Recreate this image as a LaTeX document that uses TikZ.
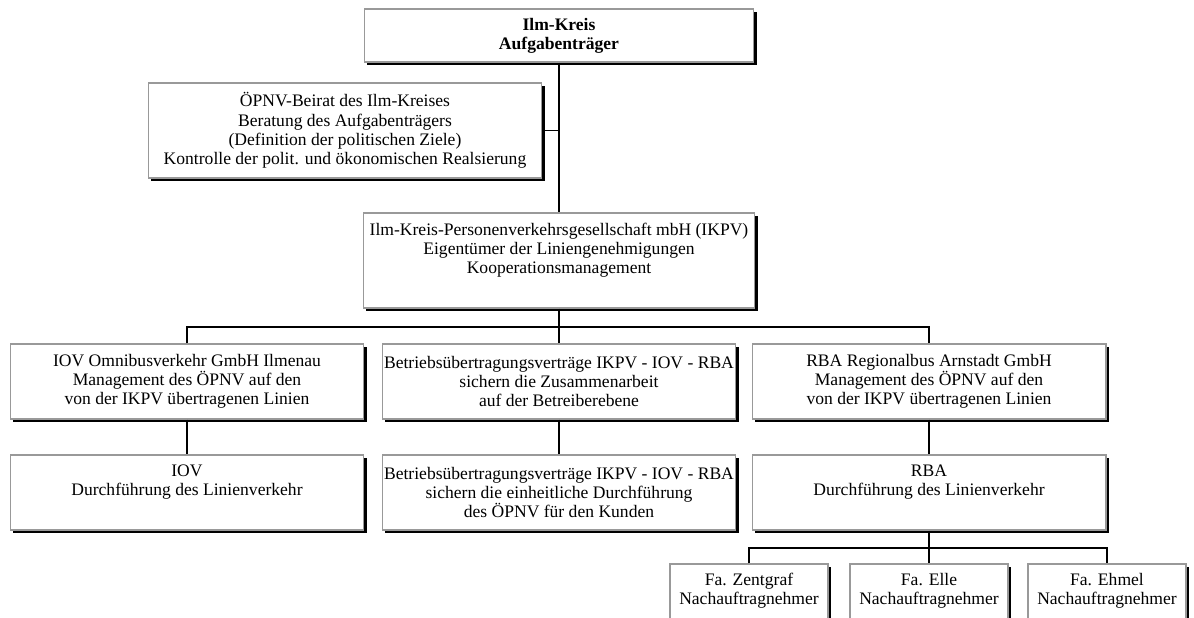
\documentclass[tikz,border=0pt]{standalone}
\usepackage{fontspec}
\setmainfont{Liberation Serif}
\usetikzlibrary{shadows}

\begin{document}
\begin{tikzpicture}[x=0.02cm,y=-0.02cm,
  box/.style={draw=gray!80, line width=0.6pt, fill=white, align=center, inner sep=0pt,
    font=\fontsize{10}{10.9}\selectfont,
    drop shadow={shadow xshift=1.7pt, shadow yshift=-1.7pt, fill=black, opacity=1}},
  widebox/.style={box, minimum width=7.08cm, minimum height=1.5cm},
  smallbox/.style={box, minimum width=3.16cm, minimum height=1.5cm},
  conn/.style={line width=0.6pt}]
  \useasboundingbox (0,0) rectangle (1194,618);

  \node[box, minimum width=7.8cm, minimum height=1.06cm] (kreis) at (559,35.5)
    {\textbf{Ilm-Kreis}\\\textbf{Aufgabenträger}};
  \node[box, minimum width=7.88cm, minimum height=1.9cm] (beirat) at (345,130.5)
    {ÖPNV-Beirat des Ilm-Kreises\\Beratung des Aufgabenträgers\\(Definition der politischen Ziele)\\Kontrolle der polit. und ökonomischen Realsierung};
  \node[box, minimum width=7.84cm, minimum height=1.9cm] (ikpv) at (559,260.5)
    {Ilm-Kreis-Personenverkehrsgesellschaft mbH (IKPV)\\Eigentümer der Liniengenehmigungen\\Kooperationsmanagement\\ \strut};

  \node[widebox] (iovM) at (187,381.5)
    {IOV Omnibusverkehr GmbH Ilmenau\\Management des ÖPNV auf den\\von der IKPV übertragenen Linien};
  \node[widebox] (vertragA) at (559,381.5)
    {Betriebsübertragungsverträge IKPV - IOV - RBA\\sichern die Zusammenarbeit\\auf der Betreiberebene};
  \node[widebox] (rbaM) at (929,381.5)
    {RBA Regionalbus Arnstadt GmbH\\Management des ÖPNV auf den\\von der IKPV übertragenen Linien};

  \node[widebox] (iovD) at (187,492.5)
    {IOV\\Durchführung des Linienverkehr\\ \strut};
  \node[widebox] (vertragB) at (559,492.5)
    {Betriebsübertragungsverträge IKPV - IOV - RBA\\sichern die einheitliche Durchführung\\des ÖPNV für den Kunden};
  \node[widebox] (rbaD) at (929,492.5)
    {RBA\\Durchführung des Linienverkehr\\ \strut};

  \node[smallbox] (zentgraf) at (749,601.5) {Fa. Zentgraf\\Nachauftragnehmer\\ \strut};
  \node[smallbox] (elle) at (929,601.5) {Fa. Elle\\Nachauftragnehmer\\ \strut};
  \node[smallbox] (ehmel) at (1107,601.5) {Fa. Ehmel\\Nachauftragnehmer\\ \strut};

  \coordinate (busA) at (559,327);
  \coordinate (busB) at (929,548);

  \draw[conn] (kreis.south) -- (ikpv.north);
  \draw[conn] (beirat.east) -- (beirat.east -| kreis.south);
  \draw[conn] (ikpv.south) -- (vertragA.north);
  \draw[conn] (iovM.north) |- (busA) -| (rbaM.north);
  \draw[conn] (iovM.south) -- (iovD.north);
  \draw[conn] (vertragA.south) -- (vertragB.north);
  \draw[conn] (rbaM.south) -- (rbaD.north);
  \draw[conn] (rbaD.south) -- (elle.north);
  \draw[conn] (zentgraf.north) |- (busB) -| (ehmel.north);
\end{tikzpicture}
\end{document}
